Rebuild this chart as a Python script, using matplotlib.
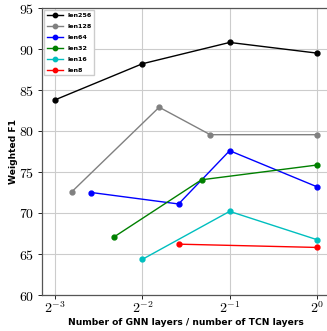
import numpy as np
import matplotlib
matplotlib.use('Agg')
import matplotlib.pyplot as plt
import matplotlib.ticker as mticker

plt.rcParams['mathtext.fontset'] = 'cm'

# ratio GNN layers / TCN layers and weighted F1 for each sequence length
x_len256 = [1/8, 2/8, 4/8, 8/8]
f1_len256 = [83.8, 88.2, 90.8, 89.5]
x_len128 = [1/7, 2/7, 3/7, 7/7]
f1_len128 = [72.6, 82.9, 79.55, 79.55]
x_len64 = [1/6, 2/6, 3/6, 6/6]
f1_len64 = [72.5, 71.1, 77.6, 73.2]
x_len32 = [1/5, 2/5, 5/5]
f1_len32 = [67.1, 74.05, 75.85]
x_len16 = [1/4, 2/4, 4/4]
f1_len16 = [64.35, 70.2, 66.75]
x_len8 = [1/3, 3/3]
f1_len8 = [66.2, 65.8]

series = [('len256', x_len256, f1_len256, 'k'),
          ('len128', x_len128, f1_len128, 'gray'),
          ('len64', x_len64, f1_len64, 'b'),
          ('len32', x_len32, f1_len32, 'g'),
          ('len16', x_len16, f1_len16, 'c'),
          ('len8', x_len8, f1_len8, 'r')]

xticks = [2**-3, 2**-2, 2**-1, 2**0]
xticklabels = [r'$2^{-3}$', r'$2^{-2}$', r'$2^{-1}$', r'$2^{0}$']

fig = plt.figure(figsize=(3.27, 3.31), dpi=100)
ax = fig.add_axes([42/327, 36/331, 288/327, 287/331])

for name, xs, ys, c in series:
    ax.plot(xs, ys, '-o', color=c, lw=1, ms=3.5, label=name)

ax.set_xscale('log', base=2)
ax.set_xlim(2**-3.15, 2**0.15)
ax.set_ylim(60, 95)
ax.set_xticks(xticks)
ax.set_xticklabels(xticklabels, fontsize=10)
ax.xaxis.set_minor_locator(mticker.NullLocator())
ax.yaxis.set_major_formatter(mticker.FuncFormatter(lambda v, p: r'$%d$' % v))
ax.tick_params(axis='y', labelsize=10, length=3, width=0.6, pad=2.5)
ax.tick_params(axis='x', length=3, width=0.6, pad=1)
ax.grid(True, color='#cccccc', lw=0.8)
ax.set_axisbelow(True)
for s in ax.spines.values():
    s.set_color('#555555')
    s.set_linewidth(0.9)

ax.set_xlabel('Number of GNN layers / number of TCN layers', fontsize=6.6, fontweight='bold', labelpad=1)
ax.set_ylabel('Weighted F1', fontsize=6.6, fontweight='bold', labelpad=1)

ax.legend(loc='upper left', prop={'size': 4.6, 'weight': 'bold'}, handlelength=2.6,
          handletextpad=0.6, borderaxespad=0.35, labelspacing=0.85, fancybox=False,
          framealpha=1, edgecolor='#cccccc', markerscale=0.9)

plt.savefig('out.png', dpi=100)
